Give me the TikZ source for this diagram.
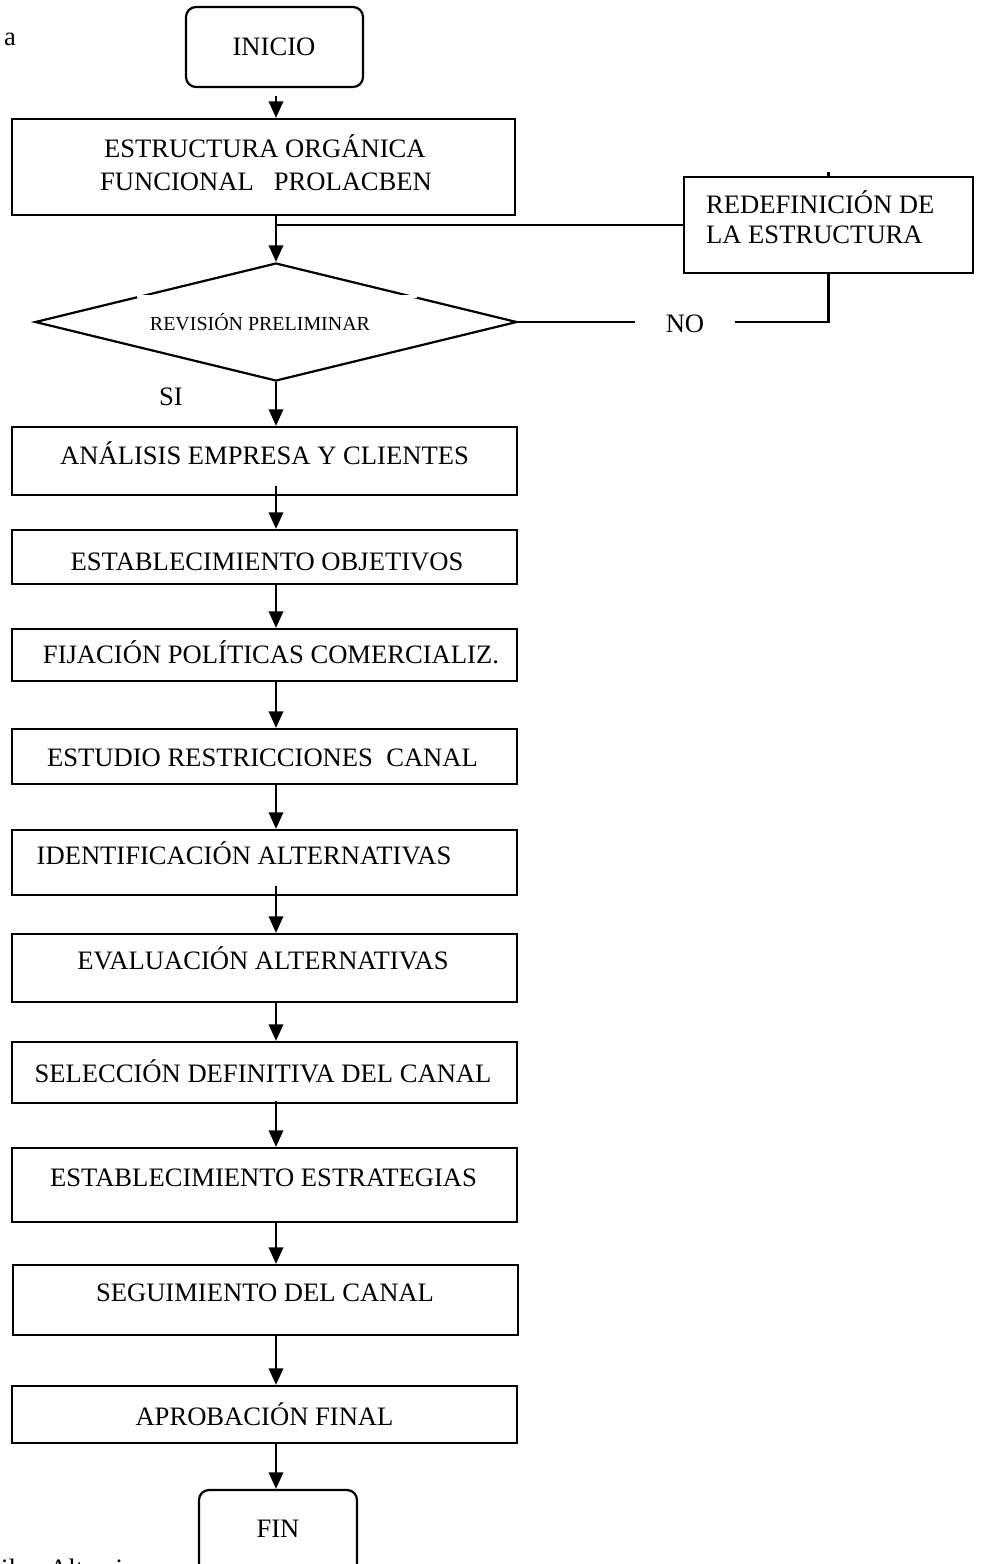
\documentclass[tikz,border=0pt]{standalone}
\usepackage{fontspec}
\setmainfont{Liberation Serif}
\usetikzlibrary{shapes.geometric,arrows.meta,fit}
\newdimen\pu \pu=0.451pt
\begin{document}
\begin{tikzpicture}[x=0.451pt,y=-0.451pt,line width=1pt,
  box/.style={draw,rectangle,inner sep=0pt},
  rbox/.style={box,rounded corners=10\pu},
  txt/.style={inner sep=0pt,anchor=base,font=\fontsize{12}{14}\selectfont},
  smalltxt/.style={inner sep=0pt,anchor=base,font=\fontsize{9}{11}\selectfont},
  arr/.style={-{Triangle[length=7.5pt,width=6.5pt]}}]
\useasboundingbox (0,0) rectangle (982,1564);
\clip (0,0) rectangle (982,1564);

% boxes
\node[rbox, fit={(186,7)(363,87)}] (inicio) {};
\node[box, fit={(12,119)(515,215)}] (estr) {};
\node[box, fit={(684,177)(973,273)}] (redef) {};
\node[diamond, draw, minimum width=482\pu, minimum height=118\pu, inner sep=0pt] (dec) at (276,322) {};
\fill[white] (137,295.3) rectangle (417,297.9);
\node[box, fit={(12,427)(517,495)}] (anal) {};
\node[box, fit={(12,530)(517,584)}] (obj) {};
\node[box, fit={(12,629)(517,681)}] (fij) {};
\node[box, fit={(12,729)(517,784)}] (est) {};
\node[box, fit={(12,830)(517,895)}] (ident) {};
\node[box, fit={(12,934)(517,1002)}] (eval) {};
\node[box, fit={(12,1042)(517,1103)}] (sel) {};
\node[box, fit={(12,1148)(517,1222)}] (estrat) {};
\node[box, fit={(13,1265)(518,1335)}] (seg) {};
\node[box, fit={(12,1386)(517,1443)}] (aprob) {};
\node[rbox, fit={(199,1490)(357,1610)}] (fin) {};

% texts
\node[txt, anchor=base west] (ta) at (3,45) {a};
\node[txt] (tinicio) at (274,55) {INICIO};
\node[txt, anchor=base west] (testr1) at (103,157) {ESTRUCTURA ORGÁNICA};
\node[txt, anchor=base west] (testr2) at (99,190) {FUNCIONAL\ \ \ PROLACBEN};
\node[txt, anchor=base west] (tredef1) at (705,213) {REDEFINICIÓN DE};
\node[txt, anchor=base west] (tredef2) at (705,243) {LA ESTRUCTURA};
\node[smalltxt] (tdec) at (260,330) {REVISIÓN PRELIMINAR};
\node[txt, inner xsep=30\pu, inner ysep=0pt] (no) at (685,332) {NO};
\node[txt] (si) at (171,405) {SI};
\node[txt] (tanal) at (264.5,464) {ANÁLISIS EMPRESA Y CLIENTES};
\node[txt] (tobj) at (267,570) {ESTABLECIMIENTO OBJETIVOS};
\node[txt] (tfij) at (271,663) {FIJACIÓN POLÍTICAS COMERCIALIZ.};
\node[txt] (test) at (262.5,766) {ESTUDIO RESTRICCIONES\ \ CANAL};
\node[txt] (tident) at (244,864) {IDENTIFICACIÓN ALTERNATIVAS};
\node[txt] (teval) at (263,969) {EVALUACIÓN ALTERNATIVAS};
\node[txt] (tsel) at (263,1082) {SELECCIÓN DEFINITIVA DEL CANAL};
\node[txt] (testrat) at (263.5,1186) {ESTABLECIMIENTO ESTRATEGIAS};
\node[txt] (tseg) at (265,1301) {SEGUIMIENTO DEL CANAL};
\node[txt] (taprob) at (264.5,1425) {APROBACIÓN FINAL};
\node[txt] (tfin) at (278,1537) {FIN};
\node[txt, anchor=base west] (tfuente) at (0,1577) {ilo\ \ \ Altamirano};

% connectors
\coordinate (cx) at (276,0);
\draw[arr, shorten <=8\pu] (inicio.south -| cx) -- (estr.north -| cx);
\draw[arr] (estr.south -| cx) -- (dec.north);
\path (estr.south -| cx) ++(0,9) coordinate (j1);
\draw (j1) -- (j1 -| redef.west);
\draw (redef.north) -- ++(0,-4);
\draw (dec.east) -- (no.west |- dec.east);
\draw (no.east |- dec.east) -| (redef.south);
\draw[arr] (dec.south) -- (anal.north -| dec.south);
\draw[arr, shorten <=-10\pu] (anal.south -| cx) -- (obj.north -| cx);
\draw[arr] (obj.south -| cx) -- (fij.north -| cx);
\draw[arr] (fij.south -| cx) -- (est.north -| cx);
\draw[arr] (est.south -| cx) -- (ident.north -| cx);
\draw[arr, shorten <=-10\pu] (ident.south -| cx) -- (eval.north -| cx);
\draw[arr] (eval.south -| cx) -- (sel.north -| cx);
\draw[arr, shorten <=-3\pu] (sel.south -| cx) -- (estrat.north -| cx);
\draw[arr] (estrat.south -| cx) -- (seg.north -| cx);
\draw[arr] (seg.south -| cx) -- (aprob.north -| cx);
\draw[arr] (aprob.south -| cx) -- (fin.north -| cx);
\end{tikzpicture}
\end{document}
